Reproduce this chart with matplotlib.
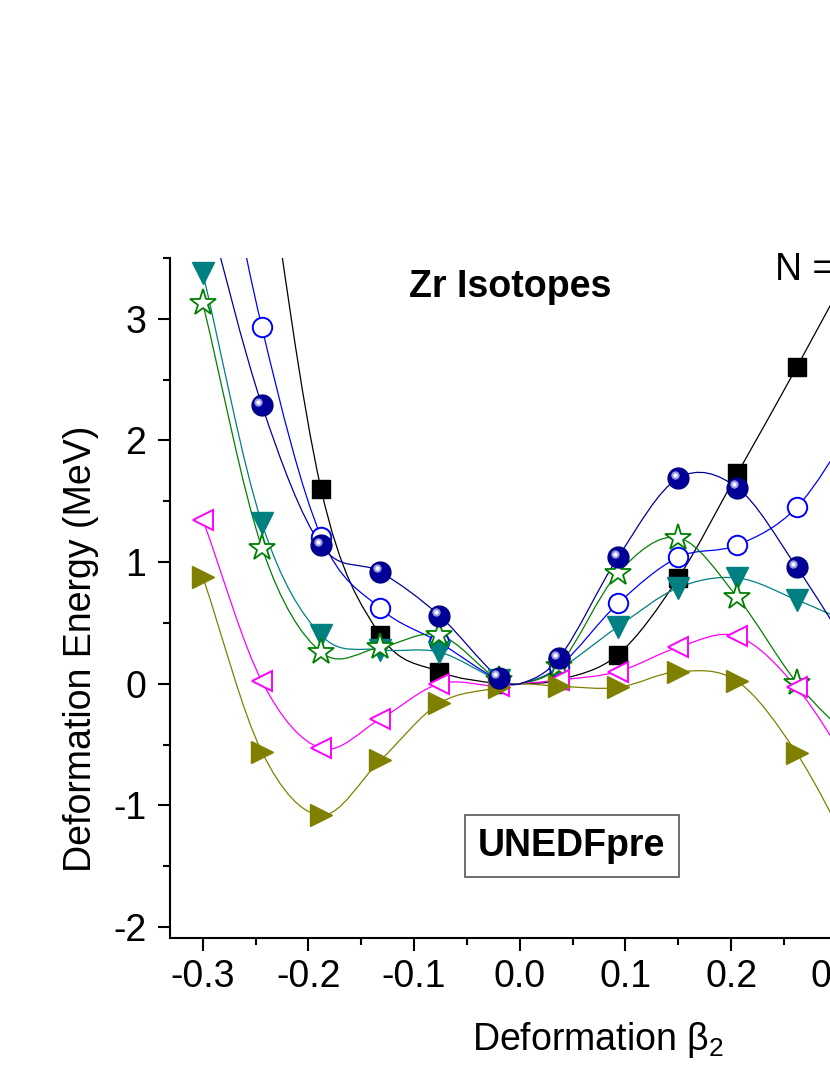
import numpy as np
import matplotlib
matplotlib.use("Agg")
import matplotlib.pyplot as plt
from matplotlib.path import Path
from matplotlib.patches import PathPatch
from matplotlib.ticker import MultipleLocator, FormatStrFormatter
import matplotlib.transforms as mtransforms

# deformation grid (beta_2); 0.0 is the spherical reference point (no marker)
beta = [-0.300, -0.244, -0.188, -0.132, -0.076, -0.020, 0.0, 0.037, 0.093, 0.150, 0.206, 0.262, 0.318]

# deformation energies (MeV)
e_sq = [8.5, 4.7, 1.60, 0.40, 0.10, 0.00, 0.0, 0.03, 0.24, 0.87, 1.73, 2.60, 3.50]
e_circ = [5.3, 2.93, 1.21, 0.62, 0.34, 0.03, 0.0, 0.14, 0.66, 1.04, 1.14, 1.45, 2.15]
e_ball = [4.05, 2.29, 1.14, 0.92, 0.56, 0.05, 0.0, 0.21, 1.04, 1.69, 1.61, 0.96, 0.20]
e_tri = [3.38, 1.32, 0.40, 0.28, 0.26, 0.03, 0.0, 0.12, 0.47, 0.79, 0.87, 0.69, 0.48]
e_star = [3.13, 1.12, 0.26, 0.30, 0.40, 0.03, 0.0, 0.15, 0.91, 1.20, 0.71, 0.01, -0.50]
e_left = [1.35, 0.02, -0.53, -0.29, 0.00, -0.02, 0.0, 0.03, 0.10, 0.30, 0.39, -0.03, -0.75]
e_right = [0.88, -0.56, -1.08, -0.63, -0.16, -0.03, 0.0, -0.02, -0.03, 0.10, 0.02, -0.57, -1.45]

xticks = [-0.3, -0.2, -0.1, 0.0, 0.1, 0.2, 0.3, 0.4]
yticks = [-2, -1, 0, 1, 2, 3]

plt.rcParams['axes.unicode_minus'] = False
plt.rcParams['mathtext.fontset'] = 'custom'
plt.rcParams['mathtext.rm'] = 'Liberation Sans'
sans = 'Liberation Sans'


def smooth(ax, x, y, color):
    # cubic hermite through the points, drawn as bezier segments
    x = np.asarray(x, float)
    y = np.asarray(y, float)
    n = len(x)
    m = np.zeros(n)
    for i in range(n):
        a = max(i - 1, 0)
        b = min(i + 1, n - 1)
        m[i] = (y[b] - y[a]) / (x[b] - x[a])
    verts = [(x[0], y[0])]
    codes = [Path.MOVETO]
    for i in range(n - 1):
        dx = x[i + 1] - x[i]
        verts += [(x[i] + dx / 3, y[i] + m[i] * dx / 3),
                  (x[i + 1] - dx / 3, y[i + 1] - m[i + 1] * dx / 3),
                  (x[i + 1], y[i + 1])]
        codes += [Path.CURVE4] * 3
    ax.add_patch(PathPatch(Path(verts, codes), facecolor='none', edgecolor=color, lw=0.9, zorder=2))


fig = plt.figure(figsize=(8.3, 10.75), dpi=100)
ax = fig.add_axes([0.2048, 0.1274, 1.0325, 0.6326])

marks = [i for i in range(len(beta)) if beta[i] != 0.0]
bx = [beta[i] for i in marks]

series = [
    (e_sq, 'black', dict(marker='s', ms=13, mfc='black', mec='black')),
    (e_circ, '#0000ff', dict(marker='o', ms=14, mfc='white', mec='#0000ff', mew=1.4)),
    (e_tri, '#008080', dict(marker='v', ms=16, mfc='#008080', mec='#008080')),
    (e_star, '#008000', dict(marker='*', ms=20, mfc='white', mec='#008000', mew=1.3)),
    (e_left, '#ff00ff', dict(marker='<', ms=15, mfc='white', mec='#ff00ff', mew=1.4)),
    (e_right, '#808000', dict(marker='>', ms=16, mfc='#808000', mec='#808000')),
    (e_ball, '#000099', dict(marker='o', ms=15, mfc='#000099', mec='#000080')),
]

for vals, col, st in series:
    smooth(ax, beta, vals, col)
    ax.plot(bx, [vals[i] for i in marks], ls='none', zorder=3, **st)

# highlight on the navy balls
shift = mtransforms.ScaledTranslation(-2.5 / 72, 2.5 / 72, fig.dpi_scale_trans)
ax.plot(bx, [e_ball[i] for i in marks], ls='none', marker='o', ms=6,
        mfc='#9a9ae0', mec='none', zorder=4, transform=ax.transData + shift)
ax.plot(bx, [e_ball[i] for i in marks], ls='none', marker='o', ms=3,
        mfc='white', mec='none', zorder=5, transform=ax.transData + shift)

ax.set_xlim(-0.331, 0.48)
ax.set_ylim(-2.09, 3.5)
ax.set_xticks(xticks)
ax.set_yticks(yticks)
ax.xaxis.set_major_formatter(FormatStrFormatter('%.1f'))
ax.xaxis.set_minor_locator(MultipleLocator(0.05))
ax.yaxis.set_minor_locator(MultipleLocator(0.5))
ax.tick_params(which='major', direction='out', length=9, width=1.5, labelsize=27)
ax.tick_params(axis='x', which='major', pad=6)
ax.tick_params(axis='y', which='major', pad=8)
ax.tick_params(which='minor', direction='out', length=5, width=1.5)
for lab in ax.get_xticklabels() + ax.get_yticklabels():
    lab.set_family(sans)
for s in ['top', 'right']:
    ax.spines[s].set_visible(False)
for s in ['left', 'bottom']:
    ax.spines[s].set_linewidth(1.5)

ax.set_ylabel('Deformation Energy (MeV)', fontsize=27, family=sans)
ax.yaxis.set_label_coords(-0.083, 0.425)
ax.text(0.5, -0.15, 'Deformation $\\mathregular{\\beta_2}$', transform=ax.transAxes,
        ha='center', va='center', fontsize=27, family=sans)

ax.text(0.397, 0.943, 'Zr Isotopes', transform=ax.transAxes, ha='center', va='baseline',
        fontsize=27, fontweight='bold', family=sans)
ax.text(0.706, 0.968, 'N = 50', transform=ax.transAxes, ha='left', va='baseline',
        fontsize=27, family=sans)
ax.text(0.469, 0.135, 'UNEDFpre', transform=ax.transAxes, ha='center', va='center',
        fontsize=27, fontweight='bold', family=sans,
        bbox=dict(boxstyle='square,pad=0.35', fc='white', ec='#555555', lw=1.2))

plt.savefig('out.png', dpi=100)
